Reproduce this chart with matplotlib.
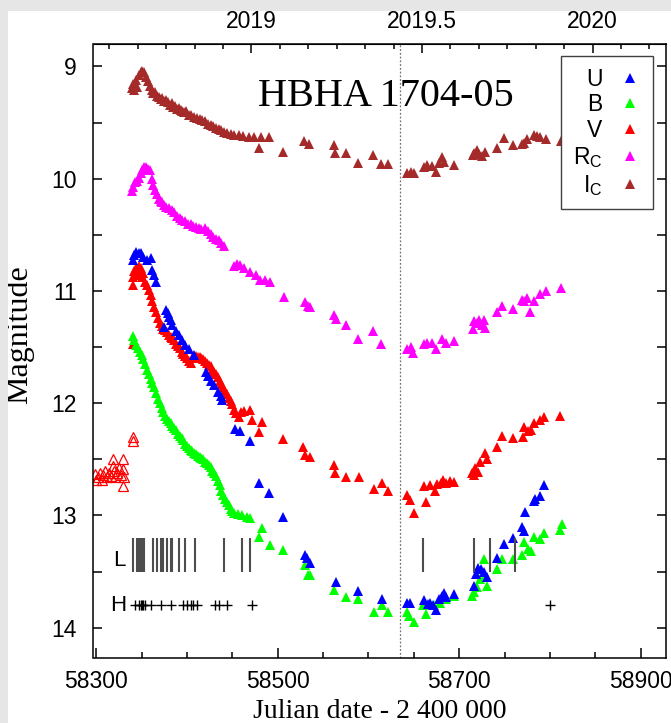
import matplotlib
matplotlib.use('Agg')

import matplotlib.pyplot as plt
from matplotlib.lines import Line2D
from matplotlib.patches import Rectangle
from matplotlib.ticker import MultipleLocator, FixedLocator, FuncFormatter

# Light curves of HBHA 1704-05 (JD - 2400000, magnitude)
ic_jd = [58339, 58341, 58342, 58344, 58345, 58347, 58349, 58351, 58353, 58355, 58357, 58359,
         58361, 58363, 58365, 58367, 58369, 58371, 58373, 58375, 58377, 58379, 58381, 58383,
         58385, 58387, 58389, 58391, 58393, 58395, 58397, 58399, 58402, 58405, 58408, 58411,
         58414, 58417, 58420, 58423, 58426, 58429, 58432, 58435, 58438, 58441, 58444, 58448,
         58452, 58457, 58462, 58468, 58474, 58479, 58482, 58490, 58506, 58529, 58535, 58562,
         58563, 58575, 58589, 58605, 58614, 58622, 58643, 58647, 58650, 58661, 58665, 58670,
         58674, 58678, 58681, 58683, 58694, 58715, 58716, 58720, 58722, 58725, 58729, 58742,
         58749, 58759, 58769, 58771, 58775, 58782, 58786, 58789, 58796, 58812]
ic_mag = [9.19, 9.16, 9.21, 9.12, 9.18, 9.08, 9.05, 9.04, 9.05, 9.09, 9.13, 9.17,
          9.21, 9.24, 9.23, 9.26, 9.27, 9.29, 9.28, 9.31, 9.30, 9.32, 9.34, 9.33,
          9.36, 9.35, 9.38, 9.37, 9.39, 9.40, 9.41, 9.40, 9.43, 9.43, 9.45, 9.46,
          9.47, 9.48, 9.49, 9.51, 9.52, 9.53, 9.55, 9.56, 9.57, 9.58, 9.59, 9.60,
          9.61, 9.61, 9.62, 9.63, 9.63, 9.73, 9.63, 9.63, 9.76, 9.66, 9.69, 9.70,
          9.77, 9.77, 9.86, 9.79, 9.87, 9.87, 9.95, 9.94, 9.95, 9.90, 9.88, 9.89,
          9.94, 9.86, 9.81, 9.85, 9.88, 9.79, 9.77, 9.74, 9.78, 9.80, 9.76, 9.73,
          9.64, 9.70, 9.69, 9.68, 9.65, 9.61, 9.62, 9.63, 9.65, 9.66]

rc_jd = [58339, 58341, 58343, 58345, 58347, 58349, 58351, 58353, 58355, 58357, 58359, 58361,
         58363, 58365, 58367, 58369, 58371, 58373, 58375, 58377, 58380, 58383, 58386, 58389,
         58392, 58395, 58398, 58401, 58404, 58407, 58410, 58413, 58416, 58420, 58423, 58426,
         58429, 58432, 58435, 58438, 58441, 58452, 58455, 58459, 58463, 58470, 58476, 58481,
         58486, 58492, 58507, 58530, 58533, 58536, 58562, 58564, 58575, 58589, 58605, 58614,
         58643, 58647, 58649, 58661, 58665, 58670, 58675, 58681, 58685, 58694, 58715, 58716,
         58720, 58722, 58725, 58727, 58729, 58742, 58747, 58759, 58769, 58772, 58775, 58778,
         58782, 58789, 58796, 58812]
rc_mag = [10.11, 10.07, 10.03, 10.02, 9.99, 9.95, 9.92, 9.90, 9.90, 9.91, 9.92, 10.00,
          10.06, 10.10, 10.14, 10.18, 10.20, 10.21, 10.23, 10.25, 10.26, 10.28, 10.30, 10.33,
          10.35, 10.37, 10.38, 10.40, 10.40, 10.42, 10.43, 10.44, 10.45, 10.44, 10.47, 10.49,
          10.52, 10.54, 10.55, 10.57, 10.60, 10.78, 10.76, 10.77, 10.80, 10.83, 10.86, 10.90,
          10.90, 10.92, 11.05, 11.10, 11.13, 11.14, 11.21, 11.25, 11.30, 11.43, 11.36, 11.47,
          11.52, 11.50, 11.55, 11.47, 11.46, 11.46, 11.52, 11.43, 11.46, 11.45, 11.34, 11.27,
          11.29, 11.26, 11.30, 11.26, 11.33, 11.19, 11.13, 11.16, 11.08, 11.09, 11.06, 11.19,
          11.09, 11.03, 11.00, 10.97]

v_jd = [58340, 58340, 58341, 58342, 58344, 58345, 58347, 58348, 58349, 58351, 58352, 58354,
        58356, 58358, 58360, 58362, 58364, 58366, 58368, 58370, 58372, 58374, 58376, 58378,
        58380, 58382, 58384, 58386, 58388, 58390, 58392, 58394, 58396, 58398, 58400, 58402,
        58404, 58406, 58408, 58410, 58412, 58414, 58416, 58418, 58420, 58422, 58424, 58426,
        58428, 58430, 58432, 58434, 58436, 58438, 58440, 58442, 58444, 58446, 58448, 58450,
        58452, 58454, 58457, 58460, 58463, 58470, 58472, 58479, 58483, 58506, 58528, 58530,
        58536, 58562, 58563, 58575, 58590, 58606, 58615, 58622, 58642, 58646, 58650, 58661,
        58663, 58668, 58673, 58676, 58680, 58682, 58686, 58690, 58694, 58714, 58716, 58718,
        58721, 58723, 58729, 58731, 58742, 58747, 58759, 58770, 58772, 58776, 58779, 58783,
        58789, 58794, 58811]
v_mag = [11.47, 10.95, 10.88, 10.82, 10.80, 10.86, 10.78, 10.84, 10.80, 10.88, 10.84, 10.92,
         10.95, 10.99, 11.04, 11.09, 11.14, 11.19, 11.24, 11.29, 11.31, 11.34, 11.35, 11.37,
         11.39, 11.41, 11.42, 11.44, 11.47, 11.49, 11.51, 11.54, 11.56, 11.58, 11.60, 11.62,
         11.64, 11.60, 11.58, 11.58, 11.59, 11.59, 11.60, 11.61, 11.62, 11.64, 11.66, 11.67,
         11.70, 11.72, 11.74, 11.77, 11.80, 11.83, 11.86, 11.89, 11.92, 11.95, 11.98, 12.01,
         12.06, 12.09, 12.12, 12.08, 12.07, 12.06, 12.15, 12.26, 12.17, 12.32, 12.39, 12.46,
         12.48, 12.55, 12.62, 12.66, 12.66, 12.76, 12.71, 12.78, 12.82, 12.86, 12.98, 12.74,
         12.88, 12.73, 12.78, 12.72, 12.71, 12.68, 12.71, 12.69, 12.70, 12.62, 12.64, 12.58,
         12.61, 12.52, 12.44, 12.50, 12.39, 12.29, 12.31, 12.30, 12.21, 12.25, 12.24, 12.18,
         12.15, 12.12, 12.11]

# older V photometry (open symbols)
v_old_jd = [58299, 58300, 58302, 58304, 58306, 58308, 58310, 58312, 58314, 58316, 58318, 58319,
            58320, 58321, 58323, 58325, 58327, 58329, 58330, 58331, 58330, 58340, 58341]
v_old_mag = [12.63, 12.68, 12.66, 12.62, 12.68, 12.64, 12.60, 12.66, 12.62, 12.65, 12.56, 12.50,
             12.60, 12.66, 12.62, 12.58, 12.64, 12.50, 12.59, 12.66, 12.74, 12.30, 12.34]

u_jd = [58340, 58342, 58344, 58347, 58349, 58352, 58356, 58360, 58362, 58364, 58366, 58375,
        58377, 58379, 58380, 58382, 58384, 58388, 58391, 58395, 58398, 58402, 58408, 58421,
        58423, 58426, 58430, 58434, 58437, 58439, 58453, 58458, 58470, 58479, 58490, 58506,
        58530, 58532, 58536, 58564, 58589, 58615, 58642, 58646, 58661, 58666, 58668, 58671,
        58674, 58678, 58681, 58683, 58686, 58694, 58716, 58719, 58721, 58724, 58727, 58731,
        58742, 58749, 58759, 58769, 58771, 58773, 58782, 58784, 58789, 58794]
u_mag = [10.72, 10.68, 10.65, 10.66, 10.66, 10.70, 10.72, 10.71, 10.81, 10.86, 10.92, 11.32,
         11.17, 11.20, 11.23, 11.26, 11.30, 11.36, 11.39, 11.44, 11.48, 11.52, 11.57, 11.72,
         11.76, 11.80, 11.84, 11.90, 11.94, 11.97, 12.23, 12.25, 12.34, 12.71, 12.80, 13.01,
         13.35, 13.38, 13.42, 13.59, 13.67, 13.74, 13.78, 13.78, 13.75, 13.79, 13.78, 13.80,
         13.84, 13.74, 13.72, 13.69, 13.73, 13.70, 13.63, 13.52, 13.47, 13.48, 13.50, 13.55,
         13.38, 13.25, 13.20, 13.10, 13.14, 12.97, 12.87, 12.85, 12.83, 12.73]

b_jd = [58340, 58342, 58344, 58346, 58348, 58350, 58352, 58354, 58356, 58358, 58360, 58362,
        58364, 58366, 58368, 58370, 58372, 58374, 58376, 58378, 58380, 58382, 58384, 58386,
        58388, 58390, 58392, 58394, 58396, 58398, 58400, 58402, 58404, 58406, 58408, 58410,
        58412, 58414, 58416, 58418, 58420, 58422, 58424, 58426, 58428, 58430, 58432, 58434,
        58436, 58438, 58440, 58442, 58444, 58446, 58448, 58450, 58452, 58456, 58461, 58466,
        58470, 58479, 58483, 58492, 58506, 58530, 58533, 58536, 58562, 58575, 58589, 58606,
        58615, 58622, 58643, 58645, 58650, 58660, 58664, 58672, 58679, 58686, 58694, 58714,
        58716, 58720, 58723, 58727, 58729, 58731, 58742, 58747, 58759, 58769, 58772, 58776,
        58779, 58783, 58789, 58794, 58811, 58813]
b_mag = [11.40, 11.44, 11.48, 11.51, 11.54, 11.57, 11.61, 11.65, 11.70, 11.74, 11.78, 11.82,
         11.86, 11.91, 11.96, 12.00, 12.04, 12.08, 12.11, 12.14, 12.16, 12.18, 12.20, 12.22,
         12.24, 12.27, 12.29, 12.31, 12.33, 12.36, 12.38, 12.40, 12.42, 12.43, 12.44, 12.45,
         12.47, 12.48, 12.49, 12.50, 12.52, 12.53, 12.55, 12.57, 12.60, 12.62, 12.65, 12.69,
         12.73, 12.78, 12.82, 12.85, 12.88, 12.91, 12.94, 12.96, 12.98, 12.99, 13.00, 13.01,
         13.02, 13.19, 13.11, 13.26, 13.31, 13.44, 13.53, 13.53, 13.66, 13.73, 13.74, 13.86,
         13.80, 13.86, 13.86, 13.90, 13.95, 13.80, 13.88, 13.80, 13.78, 13.74, 13.72, 13.72,
         13.68, 13.64, 13.57, 13.39, 13.55, 13.63, 13.48, 13.39, 13.39, 13.35, 13.24, 13.30,
         13.32, 13.19, 13.21, 13.16, 13.13, 13.08]

# epochs of low- and high-resolution spectra
l_spec_jd = [58341, 58345, 58347, 58349, 58351, 58353, 58363, 58367, 58371, 58374, 58378,
             58382, 58384, 58391, 58398, 58409, 58441, 58461, 58470, 58660, 58716, 58734, 58762]
h_spec_jd = [58343, 58347, 58349, 58351, 58352, 58354, 58360, 58371, 58382, 58396, 58400,
             58404, 58407, 58411, 58431, 58435, 58444, 58472, 58800]

max_jd = 58635

bands = ['U', 'B', 'V', r'R$_\mathregular{C}$', r'I$_\mathregular{C}$']
colors = ['#0000ff', '#00ff00', '#ff0000', '#ff00ff', '#a52a2a']

jd_ticks = [58300, 58500, 58700, 58900]
year_ticks = [2019, 2019.5, 2020]

# top axis: decimal year
YEAR_REF_JD = 58471
DAYS_PER_YEAR = 376.0


def jd_to_year(x):
    return 2019.0 + (x - YEAR_REF_JD) / DAYS_PER_YEAR


def year_to_jd(y):
    return YEAR_REF_JD + (y - 2019.0) * DAYS_PER_YEAR


def main():
    plt.rcParams['font.family'] = ['Liberation Sans', 'DejaVu Sans']
    plt.rcParams['mathtext.fontset'] = 'custom'
    plt.rcParams['mathtext.rm'] = 'Liberation Sans'

    W, H = 671, 723
    fig = plt.figure(figsize=(W / 100, H / 100), dpi=100)
    fig.patch.set_facecolor('white')
    # grey margin along top and left
    fig.patches.append(Rectangle((0, 1 - 11 / H), 1, 11 / H, transform=fig.transFigure,
                                 facecolor='#e6e6e6', edgecolor='none', zorder=0))
    fig.patches.append(Rectangle((0, 0), 8 / W, 1, transform=fig.transFigure,
                                 facecolor='#e6e6e6', edgecolor='none', zorder=0))

    left, right, top, bottom = 93.5, 666, 44, 658
    ax = fig.add_axes([left / W, 1 - bottom / H, (right - left) / W, (bottom - top) / H])

    ms = 7
    tri = dict(ls='none', marker='^', ms=ms, mew=0)
    ax.plot(ic_jd, ic_mag, color=colors[4], **tri)
    ax.plot(rc_jd, rc_mag, color=colors[3], **tri)
    ax.plot(v_old_jd, v_old_mag, ls='none', marker='^', ms=ms - 0.5, mfc='none',
            mec=colors[2], mew=0.9)
    ax.plot(v_jd, v_mag, color=colors[2], **tri)
    ax.plot(b_jd, b_mag, color=colors[1], **tri)
    ax.plot(u_jd, u_mag, color=colors[0], **tri)

    ax.axvline(max_jd, color='0.45', ls=(0, (1.5, 1.5)), lw=0.9, zorder=0)

    # spectra epochs
    ax.vlines(l_spec_jd, 13.2, 13.5, color='0.3', lw=1.5)
    ax.plot(h_spec_jd, [13.8] * len(h_spec_jd), ls='none', marker='+', ms=7, mew=1,
            color='black')
    ax.text(58326, 13.4, 'L', fontsize=16, ha='center', va='center')
    ax.text(58324, 13.8, 'H', fontsize=16, ha='center', va='center')

    ax.text(58619, 9.27, 'HBHA 1704-05', family='Liberation Serif', fontsize=29,
            ha='center', va='center')

    ax.set_xlim(58297, 58928)
    ax.set_ylim(14.27, 8.8)
    ax.xaxis.set_major_locator(FixedLocator(jd_ticks))
    ax.xaxis.set_minor_locator(MultipleLocator(50))
    ax.yaxis.set_major_locator(MultipleLocator(1))
    ax.yaxis.set_minor_locator(MultipleLocator(0.5))
    ax.tick_params(which='both', direction='in', right=True, top=False, width=1.1,
                   labelsize=16.5)
    ax.tick_params(axis='x', which='major', length=7.5, pad=9)
    ax.tick_params(axis='x', which='minor', length=4.5)
    ax.tick_params(axis='y', which='major', length=6.5, pad=12)
    ax.tick_params(axis='y', which='minor', length=6.5)
    for s in ax.spines.values():
        s.set_linewidth(1.1)

    sec = ax.secondary_xaxis('top', functions=(jd_to_year, year_to_jd))
    sec.xaxis.set_major_locator(FixedLocator(year_ticks))
    sec.xaxis.set_minor_locator(MultipleLocator(1 / 12))
    sec.xaxis.set_major_formatter(FuncFormatter(lambda v, p: f'{v:g}'))
    sec.tick_params(which='both', direction='in', width=1.1, labelsize=16.5)
    sec.tick_params(which='major', length=6.5, pad=8)
    sec.tick_params(which='minor', length=3.5)

    ax.set_xlabel('Julian date - 2 400 000', family='Liberation Serif', fontsize=20,
                  labelpad=4)
    ax.set_ylabel('Magnitude', family='Liberation Serif', fontsize=23)
    ax.yaxis.set_label_coords(-0.104, 0.526)

    handles = [Line2D([], [], color=c, **tri) for c in colors]
    leg = ax.legend(handles, bands, loc='upper right', bbox_to_anchor=(0.977, 0.980),
                    markerfirst=False, fancybox=False, edgecolor='0.25', framealpha=1,
                    fontsize=16.5, handlelength=1.0, handletextpad=0.7, labelspacing=0.12,
                    borderpad=0.5, borderaxespad=0)
    leg.get_frame().set_linewidth(1.0)

    fig.savefig('out.png', dpi=100)


if __name__ == '__main__':
    main()
